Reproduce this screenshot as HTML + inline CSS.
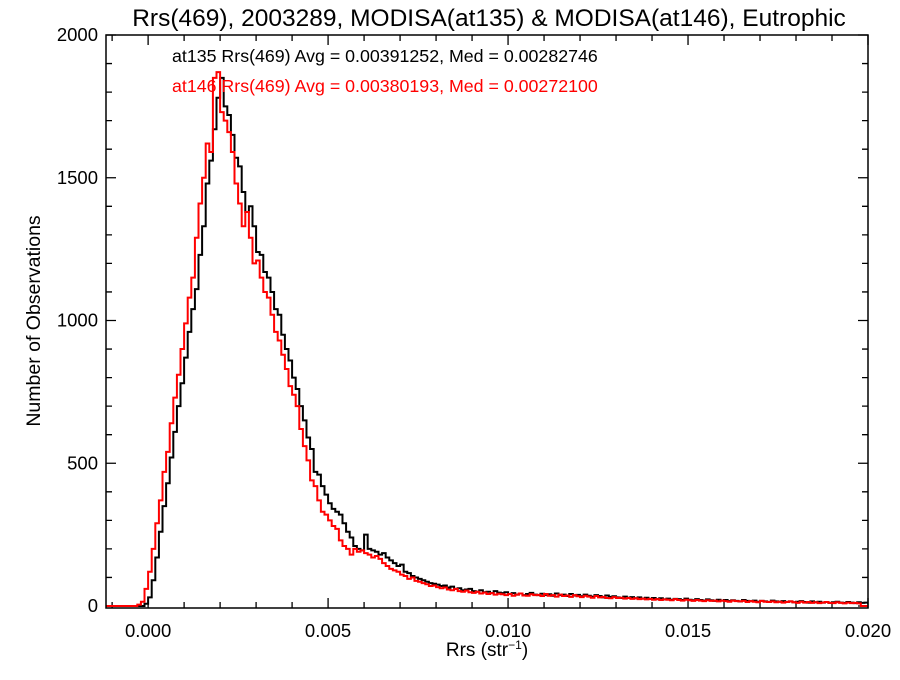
<!DOCTYPE html>
<html><head><meta charset="utf-8"><style>
body{margin:0;background:#fff;}
svg text{font-family:"Liberation Sans",sans-serif;}
</style></head><body>
<svg width="900" height="675" xmlns="http://www.w3.org/2000/svg">
<rect width="900" height="675" fill="#fff"/>
<text x="489" y="26" font-size="24.5" text-anchor="middle">Rrs(469), 2003289, MODISA(at135) &amp; MODISA(at146), Eutrophic</text>
<g id="axes"></g>
<g id="series"></g>
<rect x="106" y="35" width="762" height="573" fill="none" stroke="#000" stroke-width="1.5"/>
<text x="172" y="62" font-size="17.8" fill="#000">at135 Rrs(469) Avg = 0.00391252, Med = 0.00282746</text>
<text x="172" y="92" font-size="17.8" fill="#f00">at146 Rrs(469) Avg = 0.00380193, Med = 0.00272100</text>
<text transform="translate(40,321) rotate(-90)" font-size="19.5" text-anchor="middle">Number of Observations</text>
<text x="487" y="656" font-size="19" text-anchor="middle">Rrs (str<tspan font-size="12" dy="-7">−1</tspan><tspan dy="7">)</tspan></text>
</svg>
<script>
const xTicks=[0,0.005,0.010,0.015,0.020];
const xTickLabels=["0.000","0.005","0.010","0.015","0.020"];
const yTicks=[0,500,1000,1500,2000];
const yTickLabels=["0","500","1000","1500","2000"];
const binWidth=0.0001;
const blackStart=-0.0003;
const blackCounts=[0,0,8,30,90,170,260,350,430,520,610,700,780,870,960,1040,1110,1230,1330,1480,1560,1670,1780,1850,1750,1720,1650,1570,1540,1450,1380,1400,1330,1240,1230,1170,1150,1100,1040,1020,950,900,860,800,760,700,650,590,550,470,460,420,390,360,340,330,320,290,260,240,210,200,195,250,200,195,190,180,185,170,160,150,140,145,120,115,105,100,95,90,85,80,78,75,70,72,65,68,60,62,55,58,60,52,50,55,48,50,45,52,47,45,48,42,
45,40,44,38,42,46,40,38,43,39,41,36,44,38,40,35,42,37,39,34,40,36,33,38,35,30,37,32,34,30,28,33,29,31,27,30,26,29,25,28,24,27,23,26,22,25,24,21,26,22,20,24,21,19,23,20,18,22,19,21,17,20,18,16,21,18,17,19,15,18,16,14,19,16,15,17,14,16,13,15,17,14,12,16,13,15,12,14,11,13,15,12,11,14,12,10,13,11,12,10];
const redStart=-0.0004;
const redCounts=[0,5,15,60,120,200,290,370,470,540,640,730,810,900,990,1080,1150,1290,1410,1500,1620,1590,1850,1870,1730,1700,1660,1590,1480,1410,1330,1380,1290,1200,1210,1150,1100,1080,1020,960,930,880,830,770,740,700,620,560,510,440,420,370,330,320,300,280,270,230,210,200,180,200,190,195,185,180,170,175,165,150,140,130,125,120,110,105,95,100,88,85,80,76,70,72,66,62,65,58,55,60,52,50,54,48,46,50,44,47,42,45,40,43,
41,38,42,36,40,44,37,36,41,38,39,35,42,36,38,33,40,35,37,32,38,34,31,36,33,29,35,30,32,28,27,31,28,29,26,28,25,27,24,26,23,25,22,24,21,23,22,20,24,21,19,22,20,18,21,19,17,20,18,19,16,19,17,15,19,17,16,18,14,17,15,13,18,15,14,16,13,15,12,14,16,13,11,15,12,14,11,13,10,12,14,11,10,13,11,9,12,10,11,9];
const NS="http://www.w3.org/2000/svg";
const L=106,R=868,T=35,B=608,xmin=-0.00117,xmax=0.02,ymin=-7,ymax=2000;
const X=v=>L+(v-xmin)/(xmax-xmin)*(R-L);
const Y=v=>B-(v-ymin)/(ymax-ymin)*(B-T);
function mk(tag,attrs,parent){const e=document.createElementNS(NS,tag);for(const k in attrs)e.setAttribute(k,attrs[k]);parent.appendChild(e);return e;}
const axes=document.getElementById('axes');
let d="";
for(let v=-0.001;v<=0.02+1e-9;v+=0.001){const x=X(v);const major=xTicks.some(t=>Math.abs(t-v)<1e-9);const len=major?10:6;d+=`M${x},${B}V${B-len}M${x},${T}V${T+len}`;}
for(let v=0;v<=2000;v+=100){const y=Y(v);const major=v%500===0;const len=major?10:6;d+=`M${L},${y}H${L+len}M${R},${y}H${R-len}`;}
const ticks=mk('path',{d:d,stroke:'#000','stroke-width':1.3,fill:'none'},axes);


xTicks.forEach((v,i)=>{const t=mk('text',{x:X(v),y:637,'font-size':18.5,'text-anchor':'middle'},axes);t.textContent=xTickLabels[i];

});
yTicks.forEach((v,i)=>{const t=mk('text',{x:98,y:Y(v)+6,'font-size':18.5,'text-anchor':'end'},axes);t.textContent=yTickLabels[i];

});
function stepPath(start,counts){let p=`M${X(xmin)},${Y(0)}H${X(start)}`;counts.forEach((c,i)=>{const x0=X(start+i*binWidth),x1=X(start+(i+1)*binWidth);p+=`H${x0}V${Y(c)}H${x1}`;});const end=start+counts.length*binWidth;if(end<xmax)p+=`V${Y(0)}H${X(xmax)}`;return p;}
const series=document.getElementById('series');
const clip=mk('clipPath',{id:'pc'},series);mk('rect',{x:L,y:T,width:R-L,height:B-T},clip);
const bl=mk('path',{d:stepPath(blackStart,blackCounts),stroke:'#000','stroke-width':2,fill:'none','clip-path':'url(#pc)'},series);


const rd=mk('path',{d:stepPath(redStart,redCounts),stroke:'#f00','stroke-width':2,fill:'none','clip-path':'url(#pc)'},series);


</script>
</body></html>
